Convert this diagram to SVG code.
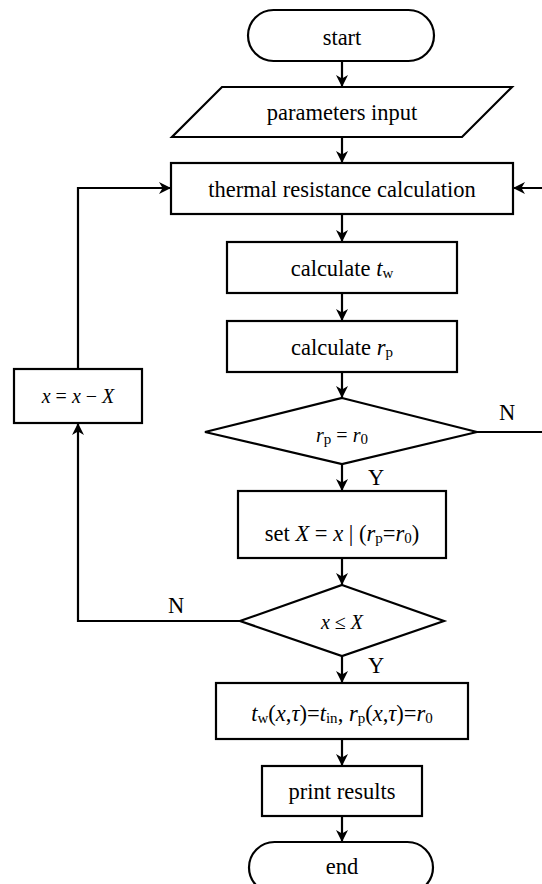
<svg xmlns="http://www.w3.org/2000/svg" width="542" height="884" viewBox="0 0 542 884">
<style>
.s{fill:#fff;stroke:#000;stroke-width:2.2}
.c{fill:none;stroke:#000;stroke-width:2.2}
text{font-family:'Liberation Serif','Times New Roman',serif;font-size:22.5px;fill:#000;text-anchor:middle}
.i{font-style:italic}
.sub{font-size:15px}
.sm{font-size:20px}
</style>
<defs>
<marker id="a" viewBox="0 0 10 10" refX="10" refY="5" markerWidth="12" markerHeight="12" markerUnits="userSpaceOnUse" orient="auto">
<path d="M0,0 L10,5 L0,10 L3,5 z" fill="#000"/>
</marker>
</defs>
<rect width="542" height="884" fill="#fff"/>
<g id="connectors" font-family="Liberation Serif">
<line class="c" x1="342" y1="61" x2="342" y2="87" marker-end="url(#a)"/>
<line class="c" x1="342" y1="137" x2="342" y2="163" marker-end="url(#a)"/>
<line class="c" x1="342" y1="214" x2="342" y2="242" marker-end="url(#a)"/>
<line class="c" x1="342" y1="293" x2="342" y2="321" marker-end="url(#a)"/>
<line class="c" x1="342" y1="372" x2="342" y2="398" marker-end="url(#a)"/>
<line class="c" x1="342" y1="464" x2="342" y2="491" marker-end="url(#a)"/>
<line class="c" x1="342" y1="558" x2="342" y2="585" marker-end="url(#a)"/>
<line class="c" x1="342" y1="656" x2="342" y2="683" marker-end="url(#a)"/>
<line class="c" x1="342" y1="739" x2="342" y2="766" marker-end="url(#a)"/>
<line class="c" x1="342" y1="816" x2="342" y2="842" marker-end="url(#a)"/>
<polyline class="c" points="477,432 546,432 546,188 513,188" marker-end="url(#a)"/>
<polyline class="c" points="240,621 78,621 78,423" marker-end="url(#a)"/>
<polyline class="c" points="78,369 78,188 171,188" marker-end="url(#a)"/>
<text x="507" y="420">N</text>
<text x="376" y="485">Y</text>
<text x="176" y="613">N</text>
<text x="376" y="673">Y</text>
</g>
<g id="start" font-family="Liberation Serif">
<rect class="s" x="248" y="10" width="186" height="51" rx="25.5"/>
<text x="342" y="45">start</text>
</g>
<g id="input" font-family="Liberation Serif">
<polygon class="s" points="222,87 512,87 462,137 172,137"/>
<text x="342" y="120">parameters input</text>
</g>
<g id="thermal" font-family="Liberation Serif">
<rect class="s" x="171" y="163" width="342" height="51"/>
<text x="342" y="197">thermal resistance calculation</text>
</g>
<g id="calc_tw" font-family="Liberation Serif">
<rect class="s" x="227" y="242" width="230" height="51"/>
<text x="342" y="276">calculate <tspan class="i">t</tspan><tspan class="sub" dy="2">w</tspan></text>
</g>
<g id="calc_rp" font-family="Liberation Serif">
<rect class="s" x="227" y="321" width="230" height="51"/>
<text x="342" y="355">calculate <tspan class="i">r</tspan><tspan class="sub" dy="2">p</tspan></text>
</g>
<g id="dec1" font-family="Liberation Serif">
<polygon class="s" points="342,398 477,432 342,464 205,432"/>
<text class="sm" x="342" y="442"><tspan class="i">r</tspan><tspan class="sub" dy="2">p</tspan><tspan dy="-2"> = </tspan><tspan class="i">r</tspan><tspan class="sub" dy="2">0</tspan></text>
</g>
<g id="setX" font-family="Liberation Serif">
<rect class="s" x="238" y="491" width="208" height="67"/>
<text x="342" y="541">set <tspan class="i">X</tspan> = <tspan class="i">x</tspan> | (<tspan class="i">r</tspan><tspan class="sub" dy="2">p</tspan><tspan dy="-2">=</tspan><tspan class="i">r</tspan><tspan class="sub" dy="2">0</tspan><tspan dy="-2">)</tspan></text>
</g>
<g id="dec2" font-family="Liberation Serif">
<polygon class="s" points="342,585 444,621 342,656 240,621"/>
<text class="sm" x="342" y="629"><tspan class="i">x</tspan> ≤ <tspan class="i">X</tspan></text>
</g>
<g id="update" font-family="Liberation Serif">
<rect class="s" x="14" y="369" width="128" height="54"/>
<text class="sm" x="78" y="403"><tspan class="i">x</tspan> = <tspan class="i">x</tspan> − <tspan class="i">X</tspan></text>
</g>
<g id="bc" font-family="Liberation Serif">
<rect class="s" x="216" y="683" width="252" height="56"/>
<text x="342" y="721"><tspan class="i">t</tspan><tspan class="sub" dy="2">w</tspan><tspan dy="-2">(</tspan><tspan class="i">x</tspan>,<tspan class="i">τ</tspan>)=<tspan class="i">t</tspan><tspan class="sub" dy="2">in</tspan><tspan dy="-2">, </tspan><tspan class="i">r</tspan><tspan class="sub" dy="2">p</tspan><tspan dy="-2">(</tspan><tspan class="i">x</tspan>,<tspan class="i">τ</tspan>)=<tspan class="i">r</tspan><tspan class="sub" dy="2">0</tspan></text>
</g>
<g id="print" font-family="Liberation Serif">
<rect class="s" x="262" y="766" width="160" height="50"/>
<text x="342" y="799">print results</text>
</g>
<g id="end" font-family="Liberation Serif">
<rect class="s" x="249" y="842" width="184" height="51" rx="25.5"/>
<text x="342" y="874">end</text>
</g>
</svg>
